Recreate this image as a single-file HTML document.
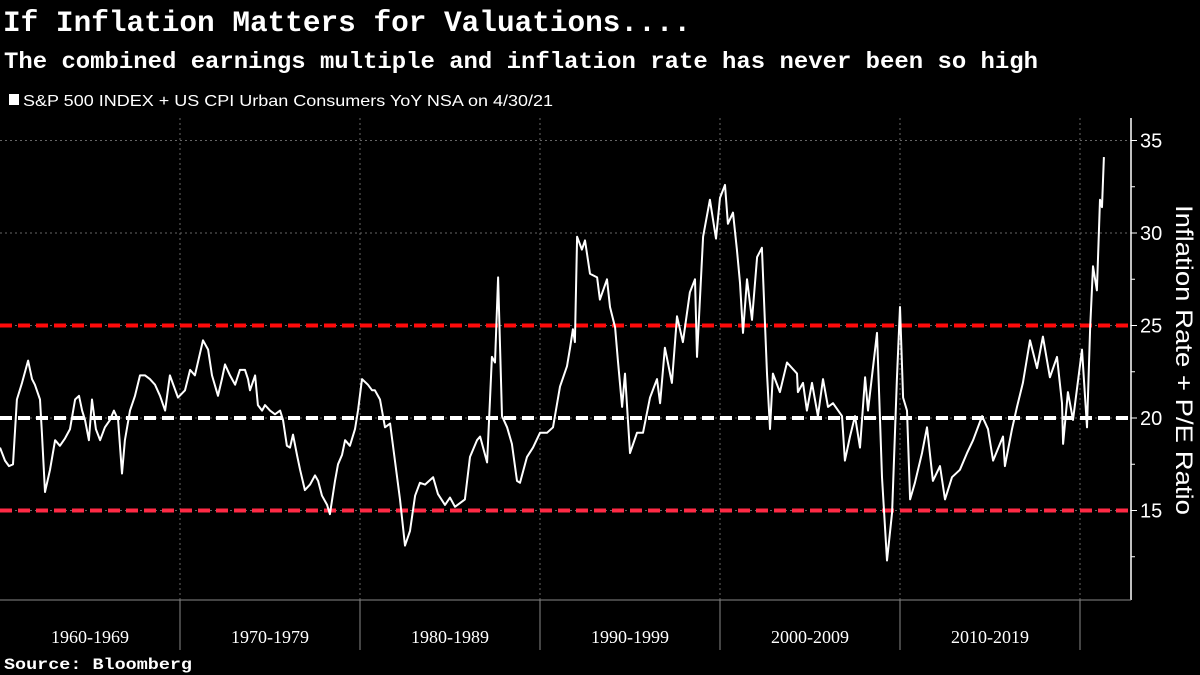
<!DOCTYPE html>
<html><head><meta charset="utf-8"><style>
html,body{margin:0;padding:0;background:#000;}
svg{display:block;}
text{font-family:"Liberation Sans",sans-serif;fill:#fff;}
.mono{font-family:"Liberation Mono",monospace;}
</style></head><body>
<svg id="chart" width="1200" height="675" viewBox="0 0 1200 675" xmlns="http://www.w3.org/2000/svg">
<rect x="0" y="0" width="1200" height="675" fill="#000"/>
<text class="mono" x="3" y="31" font-size="30" font-weight="bold" textLength="688" lengthAdjust="spacingAndGlyphs">If Inflation Matters for Valuations....</text>
<text class="mono" x="4" y="68" font-size="23" font-weight="bold" textLength="1034" lengthAdjust="spacingAndGlyphs">The combined earnings multiple and inflation rate has never been so high</text>
<rect x="9" y="94" width="10" height="11" fill="#fff"/>
<text x="23" y="106" font-size="16" textLength="530" lengthAdjust="spacingAndGlyphs">S&amp;P 500 INDEX + US CPI Urban Consumers YoY NSA on 4/30/21</text>
<g id="grid"></g>
<g id="refs"></g>
<g id="series"></g>
<g id="axes"></g>
<text transform="translate(1176,360) rotate(90)" text-anchor="middle" font-size="24" textLength="310" lengthAdjust="spacingAndGlyphs">Inflation Rate + P/E Ratio</text>
<text class="mono" x="4" y="669" font-size="16" font-weight="bold" textLength="188" lengthAdjust="spacingAndGlyphs">Source: Bloomberg</text>
</svg>
<script>
const years = [1960.00,1960.28,1960.50,1960.72,1960.94,1961.22,1961.56,1961.78,1961.94,1962.22,1962.33,1962.50,1962.78,1963.06,1963.33,1963.61,1963.89,1964.17,1964.39,1964.56,1964.72,1964.94,1965.11,1965.33,1965.56,1965.83,1966.11,1966.33,1966.56,1966.78,1966.94,1967.22,1967.50,1967.78,1968.06,1968.33,1968.61,1968.89,1969.17,1969.44,1969.89,1970.28,1970.56,1970.83,1971.28,1971.56,1971.78,1972.11,1972.33,1972.50,1972.78,1973.06,1973.33,1973.61,1973.78,1973.89,1974.17,1974.33,1974.56,1974.72,1975.00,1975.28,1975.56,1975.72,1975.94,1976.11,1976.28,1976.50,1976.67,1976.94,1977.22,1977.50,1977.67,1977.89,1978.17,1978.33,1978.61,1978.78,1979.00,1979.17,1979.44,1979.72,1979.89,1980.11,1980.44,1980.67,1980.83,1981.11,1981.39,1981.67,1982.06,1982.22,1982.50,1982.78,1983.06,1983.33,1983.61,1984.06,1984.33,1984.72,1985.00,1985.28,1985.83,1986.11,1986.50,1986.67,1987.06,1987.22,1987.33,1987.50,1987.67,1987.89,1988.17,1988.44,1988.72,1988.89,1989.28,1989.61,1990.00,1990.39,1990.72,1991.11,1991.50,1991.67,1991.83,1991.94,1992.06,1992.33,1992.50,1992.78,1993.17,1993.33,1993.72,1993.89,1994.17,1994.33,1994.56,1994.72,1995.00,1995.39,1995.72,1996.11,1996.50,1996.67,1996.94,1997.33,1997.61,1997.94,1998.33,1998.61,1998.72,1999.06,1999.44,1999.78,2000.00,2000.28,2000.44,2000.72,2000.94,2001.11,2001.28,2001.50,2001.78,2002.06,2002.33,2002.61,2002.78,2002.94,2003.33,2003.72,2004.28,2004.33,2004.61,2004.83,2005.11,2005.44,2005.72,2006.00,2006.28,2006.78,2006.94,2007.22,2007.50,2007.78,2008.06,2008.22,2008.72,2009.00,2009.28,2009.56,2009.83,2010.00,2010.17,2010.39,2010.56,2010.83,2011.22,2011.50,2011.83,2012.22,2012.50,2012.89,2013.33,2013.72,2014.06,2014.56,2014.89,2015.17,2015.72,2015.83,2016.22,2016.50,2016.83,2017.22,2017.61,2017.94,2018.33,2018.72,2019.00,2019.06,2019.33,2019.61,2020.11,2020.39,2020.56,2020.72,2020.94,2021.11,2021.22,2021.33];
const values = [18.4,17.7,17.4,17.5,21.0,21.9,23.1,22.1,21.8,21.0,19.2,16.0,17.2,18.8,18.5,18.9,19.4,21.0,21.2,20.4,19.9,18.8,21.0,19.4,18.8,19.5,19.9,20.4,19.9,17.0,18.8,20.4,21.2,22.3,22.3,22.1,21.8,21.2,20.4,22.3,21.1,21.5,22.6,22.3,24.2,23.7,22.3,21.2,22.1,22.9,22.3,21.8,22.6,22.6,22.1,21.5,22.3,20.7,20.4,20.7,20.4,20.2,20.4,19.9,18.5,18.4,19.1,18.0,17.2,16.1,16.4,16.9,16.6,15.8,15.3,14.8,16.6,17.5,18.0,18.8,18.5,19.4,20.4,22.1,21.8,21.5,21.5,21.0,19.5,19.7,16.8,15.6,13.1,13.9,15.8,16.5,16.4,16.8,15.9,15.3,15.7,15.2,15.6,17.9,18.8,19.0,17.6,21.0,23.3,23.0,27.6,20.1,19.5,18.6,16.6,16.5,17.9,18.4,19.2,19.2,19.5,21.7,22.8,23.8,24.8,24.1,29.8,29.1,29.6,27.8,27.6,26.4,27.5,26.0,24.9,23.1,20.6,22.4,18.1,19.2,19.2,21.1,22.1,20.8,23.8,21.9,25.5,24.1,26.8,27.5,23.3,29.8,31.8,29.7,31.9,32.6,30.5,31.1,29.1,27.3,24.6,27.5,25.3,28.7,29.2,22.4,19.4,22.4,21.4,23.0,22.4,21.4,21.9,20.4,21.9,20.1,22.1,20.6,20.8,20.1,17.7,19.0,20.1,18.4,22.2,20.4,24.6,16.8,12.3,14.9,22.1,26.0,21.1,20.4,15.6,16.5,18.1,19.5,16.6,17.4,15.6,16.8,17.2,18.1,18.8,20.1,19.4,17.7,19.0,17.4,19.4,20.6,21.9,24.2,22.7,24.4,22.2,23.3,20.8,18.6,21.4,19.9,23.7,19.5,24.8,28.2,26.9,31.8,31.4,34.1];
const yTicks = [15,20,25,30,35];
const decadeLabels = ["1960-1969","1970-1979","1980-1989","1990-1999","2000-2009","2010-2019"];
const decadeStarts = [1960,1970,1980,1990,2000,2010,2020];
const refLevels = [25,20,15];

const NS="http://www.w3.org/2000/svg";
const X0=0, PXY=18, AXISX=1131, TOP=118, BOT=600;
function xs(t){return X0+(t-1960)*PXY;}
function ys(v){return 418-(v-20)*18.5;}
function mk(tag,attrs,parent){const e=document.createElementNS(NS,tag);for(const k in attrs)e.setAttribute(k,attrs[k]);parent.appendChild(e);return e;}
const grid=document.getElementById('grid'), refs=document.getElementById('refs'), ser=document.getElementById('series'), axes=document.getElementById('axes');

yTicks.forEach(v=>{
  const l=mk('line',{x1:0,x2:AXISX,y1:ys(v),y2:ys(v),stroke:'#666','stroke-width':1,'stroke-dasharray':'2,3'},grid);
  
  
});
decadeStarts.forEach(d=>{
  if(d===1960) return;
  const l=mk('line',{x1:xs(d),x2:xs(d),y1:TOP,y2:BOT,stroke:'#666','stroke-width':1,'stroke-dasharray':'2,3'},grid);
  
  
  const s=mk('line',{x1:xs(d),x2:xs(d),y1:BOT,y2:650,stroke:'#888','stroke-width':1},axes);
  
  
});
refLevels.forEach(v=>{
  const col = v===20?'#ffffff':(v===25?'#ff0a0a':'#ff2a45');
  const l=mk('line',{x1:0,x2:AXISX,y1:ys(v),y2:ys(v),stroke:col,'stroke-width':4,'stroke-dasharray':'12,6'},refs);
  
  
});
let d='';
years.forEach((t,i)=>{d+=(i?'L':'M')+xs(t).toFixed(1)+','+ys(values[i]).toFixed(1);});
const p=mk('path',{d:d,fill:'none',stroke:'#fff','stroke-width':2,'stroke-linejoin':'round'},ser);



const ax=mk('line',{x1:AXISX,x2:AXISX,y1:TOP,y2:BOT,stroke:'#fff','stroke-width':1.5},axes);


const bx=mk('line',{x1:0,x2:AXISX,y1:BOT,y2:BOT,stroke:'#888','stroke-width':1},axes);


for(let v=12.5; v<=35; v+=2.5){
  const major = (v%5===0);
  const t=mk('line',{x1:AXISX,x2:AXISX+(major?6:4),y1:ys(v),y2:ys(v),stroke:'#fff','stroke-width':1},axes);
  
  
}
yTicks.forEach(v=>{
  const t=mk('text',{x:AXISX+9,y:ys(v)+7,'font-size':20},axes);
  t.textContent=v;
  
  
});
decadeLabels.forEach((lab,i)=>{
  const t=mk('text',{x:xs(decadeStarts[i]+5),y:643,'font-size':18,'text-anchor':'middle'},axes);
  t.style.fontFamily='"Liberation Serif",serif';
  t.textContent=lab;
  
  
});
</script>
</body></html>
